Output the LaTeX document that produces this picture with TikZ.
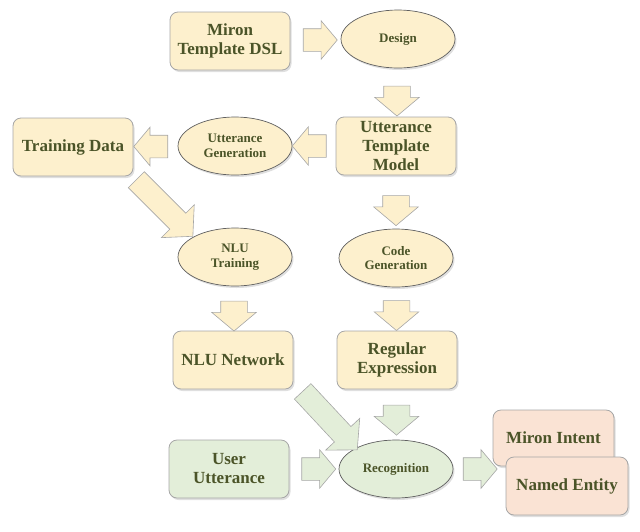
\documentclass[tikz,border=0pt]{standalone}
\usepackage{fontspec}
\setmainfont{Liberation Serif}
\usetikzlibrary{shapes.geometric,shapes.arrows,shadows,calc}
\definecolor{ylw}{HTML}{FDF0CD}
\definecolor{grn}{HTML}{E3EED9}
\definecolor{pnk}{HTML}{FAE3D4}
\definecolor{txt}{HTML}{4B5428}
\definecolor{edge}{HTML}{A6A6A6}
\tikzset{
  shad/.style={drop shadow={opacity=0.25,shadow xshift=1.5pt,shadow yshift=-2pt}},
  box/.style={rectangle, rounded corners=8pt, draw=edge, line width=0.8pt, shad,
    minimum width=120pt, minimum height=58pt, align=center, text=txt,
    font=\fontsize{17}{19}\selectfont\bfseries},
  oval/.style={ellipse, draw=gray!75!black, line width=0.7pt, shad,
    minimum width=114pt, minimum height=58pt, align=center, text=txt, inner sep=0pt,
    font=\fontsize{13}{14.5}\selectfont\bfseries},
  barrow/.style={single arrow, draw=gray!70, line width=0.6pt, inner xsep=0pt,
    text height=0pt, text depth=0pt, single arrow tip angle=100},
  harrow/.style={barrow, inner ysep=11pt, minimum height=34pt, single arrow head extend=8pt},
  varrow/.style={barrow, inner ysep=13pt, minimum height=30pt, single arrow head extend=9pt, rotate=-90},
  darrow/.style={barrow, inner ysep=11pt, minimum height=80pt, single arrow head extend=12pt,
    single arrow tip angle=95},
}
\begin{document}
\begin{tikzpicture}[x=1pt,y=-1pt]
\useasboundingbox (0,0) rectangle (640,531);
% nodes
\node[box, fill=ylw] (dsl) at (230,41) {Miron\\Template DSL};
\node[oval, fill=ylw] (design) at (398,39) {Design};
\node[box, fill=ylw] (utm) at (396,146) {Utterance\\Template\\Model};
\node[oval, fill=ylw] (ug) at (235,146) {Utterance\\Generation};
\node[box, fill=ylw] (td) at (73,147) {Training Data};
\node[oval, fill=ylw] (nlut) at (235,257) {NLU\\Training};
\node[oval, fill=ylw] (cg) at (396,258) {Code\\Generation};
\node[box, fill=ylw] (nlun) at (233,360) {NLU Network};
\node[box, fill=ylw] (regex) at (397,360) {Regular\\Expression};
\node[box, fill=grn] (uu) at (229,469) {User\\Utterance};
\node[oval, fill=grn] (rec) at (396,469) {Recognition};
\node[box, fill=pnk, minimum width=121pt, minimum height=56pt] (mi) at (553.5,438) {Miron Intent};
\node[box, fill=pnk, minimum width=122pt] (ne) at (567,486) {Named Entity};
% block arrows
\node[harrow, fill=ylw] (a1) at ($(dsl.east)!0.5!(design.west)$) {};
\node[varrow, fill=ylw] (a2) at ($(design.south)!0.5!(utm.north)+(0,3)$) {};
\node[harrow, fill=ylw, rotate=180] (a3) at ($(utm.west)!0.5!(ug.east)$) {};
\node[harrow, fill=ylw, rotate=180] (a4) at ($(ug.west)!0.5!(td.east)$) {};
\node[varrow, fill=ylw] (a5) at ($(utm.south)!0.5!(cg.north)+(0,3)$) {};
\node[darrow, fill=ylw, rotate=-45] (a6) at ($(td.south east)!0.5!(nlut.north west)+(-3,-2)$) {};
\node[varrow, fill=ylw] (a7) at ($(nlut.south)!0.5!(nlun.north)+(0,2)$) {};
\node[varrow, fill=ylw] (a8) at ($(cg.south)!0.5!(regex.north)+(0,1)$) {};
\node[darrow, fill=grn, rotate=-47] (a9) at ($(nlun.south east)!0.5!(rec.north west)+(2,-2)$) {};
\node[varrow, fill=grn] (a10) at ($(regex.south)!0.5!(rec.north)$) {};
\node[harrow, fill=grn] (a11) at ($(uu.east)!0.5!(rec.west)$) {};
\node[harrow, fill=grn] (a12) at ($(rec.east)!0.5!(rec.east -| ne.west)+(-4,0)$) {};
\end{tikzpicture}
\end{document}
